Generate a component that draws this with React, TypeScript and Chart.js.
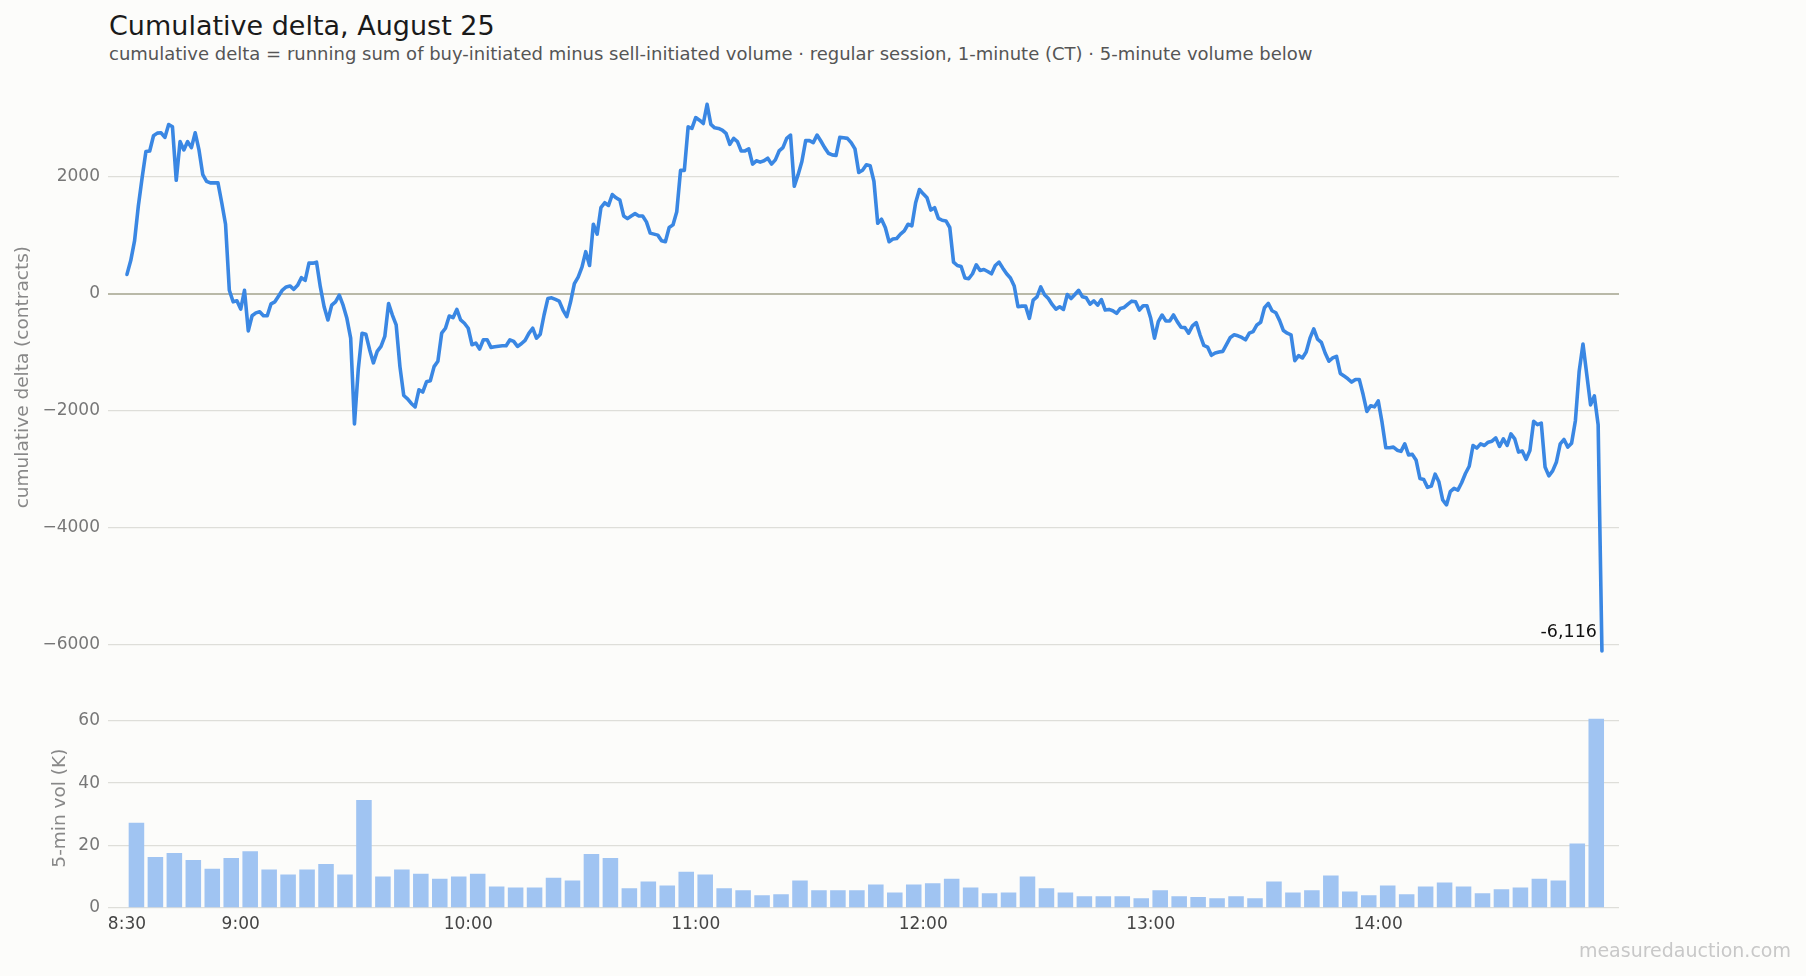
import React, { useEffect, useRef } from 'react';
import { Chart, registerables } from 'chart.js';

Chart.register(...registerables);

// Cumulative delta, one value per minute from 8:30 (index 0) to 14:59 (index 389)
const cumDelta: number[] = [
  328, 565, 900, 1497, 1980, 2430, 2440, 2700, 2745, 2751,
  2672, 2893, 2853, 1938, 2600, 2458, 2600, 2497, 2751, 2458,
  2034, 1921, 1893, 1893, 1893, 1554, 1186, 56, -141, -124,
  -266, 56, -638, -379, -330, -311, -379, -379, -175, -141,
  -40, 60, 113, 130, 73, 141, 271, 226, 520, 520,
  537, 113, -226, -452, -198, -141, -28, -198, -424, -763,
  -2230, -1300, -678, -695, -960, -1186, -989, -904, -734, -169,
  -367, -537, -1254, -1744, -1800, -1880, -1940, -1646, -1685, -1509,
  -1490, -1250, -1158, -678, -593, -384, -412, -271, -452, -508,
  -593, -876, -847, -950, -791, -791, -921, -910, -900, -893,
  -893, -791, -819, -904, -859, -800, -680, -593, -763, -695,
  -367, -85, -73, -100, -130, -282, -395, -141, 169, 282,
  452, 717, 480, 1186, 1017, 1469, 1554, 1508, 1695, 1638,
  1599, 1328, 1282, 1328, 1367, 1328, 1328, 1226, 1034, 1017,
  1000, 904, 887, 1130, 1175, 1400, 2107, 2107, 2853, 2825,
  3011, 2966, 2910, 3237, 2893, 2836, 2825, 2797, 2740, 2554,
  2655, 2599, 2440, 2440, 2475, 2215, 2271, 2249, 2271, 2316,
  2215, 2288, 2440, 2497, 2655, 2712, 1836, 2034, 2260, 2616,
  2616, 2582, 2712, 2610, 2497, 2401, 2373, 2362, 2672, 2667,
  2655, 2582, 2475, 2073, 2110, 2203, 2186, 1921, 1203, 1271,
  1130, 887, 932, 943, 1017, 1073, 1186, 1158, 1554, 1780,
  1706, 1638, 1429, 1469, 1288, 1254, 1243, 1130, 537, 480,
  463, 266, 254, 339, 492, 395, 412, 378, 339, 480,
  537, 435, 339, 266, 130, -226, -215, -215, -424, -113,
  -56, 113, -20, -85, -186, -266, -226, -271, -17, -85,
  -17, 56, -56, -73, -181, -124, -198, -102, -282, -271,
  -294, -339, -254, -237, -181, -130, -141, -282, -209, -209,
  -424, -763, -480, -367, -469, -469, -367, -480, -576, -582,
  -678, -554, -497, -706, -887, -915, -1056, -1017, -1000, -989,
  -870, -750, -706, -723, -751, -791, -678, -650, -537, -492,
  -243, -169, -294, -328, -463, -633, -678, -706, -1147, -1062,
  -1102, -1000, -763, -605, -780, -836, -1017, -1158, -1102, -1073,
  -1367, -1412, -1458, -1514, -1469, -1469, -1723, -2017, -1921, -1938,
  -1836, -2200, -2638, -2638, -2627, -2680, -2700, -2571, -2760, -2751,
  -2853, -3164, -3181, -3316, -3294, -3090, -3220, -3531, -3616, -3390,
  -3333, -3362, -3237, -3079, -2955, -2599, -2644, -2571, -2599, -2542,
  -2525, -2469, -2616, -2486, -2599, -2401, -2486, -2712, -2695, -2836,
  -2684, -2186, -2243, -2215, -2966, -3119, -3034, -2881, -2571, -2497,
  -2627, -2559, -2175, -1328, -864, -1384, -1904, -1751, -2243, -6116,
];

// 5-minute volume (thousands of contracts), 78 bars: 8:30-8:35 ... 14:55-15:00
const volumeK: number[] = [
  27.3, 16.3, 17.6, 15.4, 12.6, 16.0, 18.2, 12.3, 10.7, 12.3,
  14.1, 10.7, 34.6, 10.1, 12.3, 11.0, 9.4, 10.1, 11.0, 6.9,
  6.6, 6.6, 9.7, 8.8, 17.3, 16.0, 6.3, 8.5, 7.2, 11.6,
  10.7, 6.3, 5.7, 4.1, 4.4, 8.8, 5.7, 5.7, 5.7, 7.5,
  5.0, 7.5, 7.9, 9.4, 6.6, 4.7, 5.0, 10.1, 6.3, 5.0,
  3.8, 3.8, 3.8, 3.1, 5.7, 3.8, 3.5, 3.1, 3.8, 3.1,
  8.5, 5.0, 5.7, 10.4, 5.3, 4.1, 7.2, 4.4, 6.9, 8.2,
  6.9, 4.7, 6.0, 6.6, 9.4, 8.8, 20.7, 60.6,
];

const tickMinutes: number[] = [0, 30, 90, 150, 210, 270, 330];
const tickLabels: string[] = ['8:30', '9:00', '10:00', '11:00', '12:00', '13:00', '14:00'];
const deltaTicks: number[] = [-6000, -4000, -2000, 0, 2000];
const volTicks: number[] = [0, 20, 40, 60];

const FONT = "'DejaVu Sans', 'Liberation Sans', sans-serif";
const GRID = '#deded9';
const ZERO = '#b9b9a8';
const AXIS_W = 108;
const X_MIN = -5;
const X_MAX = 393.5;
const TICK_SIZE = 17;
const AXIS_TITLE_SIZE = 18.5;

const fmtSigned = (v: number) => (v < 0 ? '\u2212' + Math.abs(v) : String(v));

export default function App() {
  const topRef = useRef<HTMLCanvasElement | null>(null);
  const botRef = useRef<HTMLCanvasElement | null>(null);

  useEffect(() => {
    Chart.defaults.font.family = FONT;
    const lastLabelPlugin = {
      id: 'lastLabel',
      afterDatasetsDraw(chart: any) {
        const meta = chart.getDatasetMeta(0);
        const pt = meta.data[meta.data.length - 1];
        if (!pt) return;
        const v = cumDelta[cumDelta.length - 1];
        const ctx = chart.ctx;
        ctx.save();
        ctx.font = `17.5px ${FONT}`;
        ctx.fillStyle = '#111';
        ctx.textAlign = 'right';
        ctx.textBaseline = 'middle';
        ctx.fillText(v.toLocaleString('en-US'), pt.x - 5, pt.y - 19);
        ctx.restore();
      },
    };

    const top = new Chart(topRef.current as HTMLCanvasElement, {
      type: 'line',
      data: {
        datasets: [
          {
            data: cumDelta.map((v, i) => ({ x: i, y: v })),
            borderColor: '#3a87e3',
            borderWidth: 3.6,
            pointRadius: 0,
            tension: 0,
            fill: false,
            borderJoinStyle: 'round',
            borderCapStyle: 'round',
          },
        ],
      },
      options: {
        responsive: false,
        animation: false,
        layout: { padding: { left: 0, right: 187, top: 92.5, bottom: 13.3 } },
        plugins: { legend: { display: false }, tooltip: { enabled: false } },
        scales: {
          x: { type: 'linear', min: X_MIN, max: X_MAX, display: false, offset: false },
          y: {
            min: -6300,
            max: 3440,
            afterBuildTicks: (s: any) => {
              s.ticks = deltaTicks.map((v) => ({ value: v }));
            },
            afterFit: (s: any) => {
              s.width = AXIS_W;
            },
            grid: {
              color: (c: any) => (c.tick && c.tick.value === 0 ? ZERO : GRID),
              lineWidth: (c: any) => (c.tick && c.tick.value === 0 ? 2 : 1.3),
              drawTicks: false,
            },
            border: { display: false },
            ticks: {
              padding: 8,
              color: '#777',
              font: { size: TICK_SIZE },
              callback: (v: any) => fmtSigned(Number(v)),
            },
            title: {
              display: true,
              text: 'cumulative delta (contracts)',
              color: '#888',
              font: { size: AXIS_TITLE_SIZE },
              padding: { top: 12.4, bottom: 0 },
            },
          },
        },
      },
      plugins: [lastLabelPlugin],
    } as any);

    const bot = new Chart(botRef.current as HTMLCanvasElement, {
      type: 'bar',
      data: {
        datasets: [
          {
            data: volumeK.map((v, i) => ({ x: i * 5 + 2.5, y: v })),
            backgroundColor: '#a0c4f2',
            borderWidth: 0,
            barPercentage: 0.82,
            categoryPercentage: 1,
          },
        ],
      },
      options: {
        responsive: false,
        animation: false,
        layout: { padding: { left: 0, right: 187, top: 15.3, bottom: 38 } },
        plugins: { legend: { display: false }, tooltip: { enabled: false } },
        scales: {
          x: {
            type: 'linear',
            min: X_MIN,
            max: X_MAX,
            offset: false,
            grid: { display: false, drawTicks: false, offset: false },
            border: { display: false },
            afterBuildTicks: (s: any) => {
              s.ticks = tickMinutes.map((v) => ({ value: v }));
            },
            afterFit: (s: any) => {
              s.height = 30;
            },
            ticks: {
              padding: 6,
              color: '#444',
              font: { size: TICK_SIZE },
              maxRotation: 0,
              autoSkip: false,
              callback: (v: any) => {
                const k = tickMinutes.indexOf(Number(v));
                return k >= 0 ? tickLabels[k] : '';
              },
            },
          },
          y: {
            min: 0,
            max: 64,
            afterBuildTicks: (s: any) => {
              s.ticks = volTicks.map((v) => ({ value: v }));
            },
            afterFit: (s: any) => {
              s.width = AXIS_W;
            },
            grid: { color: GRID, lineWidth: 1.3, drawTicks: false },
            border: { display: false },
            ticks: { padding: 8, color: '#777', font: { size: TICK_SIZE } },
            title: {
              display: true,
              text: '5-min vol (K)',
              color: '#888',
              font: { size: AXIS_TITLE_SIZE },
              padding: { top: 49.4, bottom: 0 },
            },
          },
        },
      },
    } as any);

    return () => {
      top.destroy();
      bot.destroy();
    };
  }, []);

  return (
    <div
      style={{
        position: 'fixed',
        left: 0,
        top: 0,
        width: 1806,
        height: 976,
        background: '#fcfcfa',
        fontFamily: FONT,
        overflow: 'hidden',
      }}
    >
      <div
        style={{
          position: 'absolute',
          left: 109,
          top: 12,
          fontSize: 27,
          lineHeight: 1,
          color: '#1a1a1a',
          whiteSpace: 'nowrap',
        }}
      >
        Cumulative delta, August 25
      </div>
      <div
        style={{
          position: 'absolute',
          left: 109,
          top: 44.8,
          fontSize: 18,
          lineHeight: 1,
          color: '#555',
          whiteSpace: 'nowrap',
        }}
      >
        cumulative delta = running sum of buy-initiated minus sell-initiated volume · regular session, 1-minute (CT) · 5-minute volume below
      </div>
      <canvas
        ref={topRef}
        width={1806}
        height={680}
        style={{ position: 'absolute', left: 0, top: 0, width: 1806, height: 680 }}
      />
      <canvas
        ref={botRef}
        width={1806}
        height={286}
        style={{ position: 'absolute', left: 0, top: 690, width: 1806, height: 286 }}
      />
      <div
        style={{
          position: 'absolute',
          right: 15,
          top: 941,
          fontSize: 19,
          lineHeight: 1,
          color: '#c8c8c8',
          whiteSpace: 'nowrap',
        }}
      >
        measuredauction.com
      </div>
    </div>
  );
}
